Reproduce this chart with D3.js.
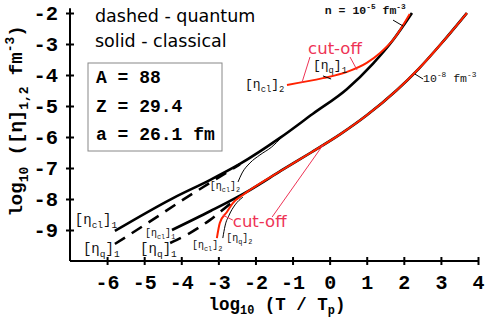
<!DOCTYPE html>
<html>
<head>
<meta charset="utf-8">
<script src="https://cdn.jsdelivr.net/npm/d3@7"></script>
<style>
  body { margin: 0; background: #fff; }
</style>
</head>
<body>
<svg id="chart" width="485" height="319"></svg>
<script>
// tick values
const xTicks = [-6, -5, -4, -3, -2, -1, 0, 1, 2, 3, 4];
const yTicks = [-2, -3, -4, -5, -6, -7, -8, -9];

// n = 1e-5 fm^-3
const clHiX = [-5.79, -4.22, -3.23, -2.42, -1.34, -0.45, 0.47, 1.17, 1.71, 2.22];
const clHiY = [-9.03, -7.97, -7.39, -6.87, -6.03, -5.25, -4.45, -3.63, -2.87, -2.0];
const qHiX = [-5.79, -4.9, -4.0, -3.2, -2.42];
const qHiY = [-9.45, -8.77, -8.06, -7.46, -6.88];
const cutHiX = [-1.15, -0.18, 0.47, 1.0, 1.36, 1.71, 2.16];
const cutHiY = [-4.32, -4.10, -3.90, -3.61, -3.29, -2.87, -2.03];
const cl2HiX = [-2.47, -2.36, -2.15, -1.88, -1.56, -1.30];
const cl2HiY = [-7.45, -7.16, -6.84, -6.58, -6.32, -6.02];

// n = 1e-8 fm^-3
const clLoX = [-4.25, -3.2, -2.15, -1.3, -0.5, 0.3, 1.0, 1.8, 2.4, 3.0, 3.7];
const clLoY = [-9.0, -8.38, -7.71, -7.08, -6.5, -5.9, -5.3, -4.5, -3.8, -3.0, -2.0];
const qLoX = [-4.30, -3.77, -3.23, -2.82, -2.42];
const qLoY = [-9.42, -9.10, -8.68, -8.29, -7.90];
const cutLoX = [-3.04, -2.96, -2.77, -2.61, -2.34, -2.15, -1.3, -0.5, 0.3, 1.0, 1.8, 2.4, 3.0, 3.7];
const cutLoY = [-9.26, -8.77, -8.42, -8.13, -7.87, -7.71, -7.08, -6.5, -5.9, -5.3, -4.5, -3.8, -3.0, -2.0];
const q2LoX = [-2.88, -2.82, -2.71, -2.55, -2.34];
const q2LoY = [-9.26, -8.87, -8.52, -8.19, -7.94];

const svg = d3.select("#chart");
const mono = "'Liberation Mono', 'Courier New', monospace";

const x = d3.scaleLinear().domain([-7, 4]).range([70, 478]);
const y = d3.scaleLinear().domain([-10, -2]).range([261, 13]);

const zip = (xs, ys) => xs.map((v, i) => [v, ys[i]]);
const line = d3.line().x(d => x(d[0])).y(d => y(d[1])).curve(d3.curveMonotoneX);

// write text with sub / superscripts
function rich(sel, parts, size, subShift = 0.3) {
  let shift = 0;
  parts.forEach(([t, k]) => {
    const target = k === "sub" ? size * subShift : k === "sup" ? -size * 0.42 : 0;
    sel.append("tspan")
      .attr("dy", target - shift)
      .attr("font-size", k ? size * 0.68 : size)
      .text(t);
    shift = target;
  });
  return sel;
}

// axes
const xAxis = svg.append("g")
  .attr("transform", `translate(0,${y(-10)})`)
  .call(d3.axisBottom(x).tickValues(xTicks).tickFormat(d => String(d))
    .tickSize(4).tickPadding(10).tickSizeOuter(0));
xAxis.selectAll(".tick line").attr("y1", -4).attr("y2", 4);

const yAxis = svg.append("g")
  .attr("transform", `translate(${x(-7)},0)`)
  .call(d3.axisLeft(y).tickValues(yTicks).tickFormat(d => String(d))
    .tickSize(4).tickPadding(8).tickSizeOuter(0));
yAxis.selectAll(".tick line").attr("x1", -4).attr("x2", 4);

svg.selectAll(".domain, .tick line").attr("stroke", "#000").attr("stroke-width", 2);
xAxis.select(".domain").attr("d", `M${x(-7)},0H${x(4)}`);
yAxis.select(".domain").attr("d", `M0,${y(-10)}V${y(-1.85)}`);
svg.selectAll(".tick text")
  .attr("font-family", mono).attr("font-weight", "bold")
  .attr("font-size", 20.5).attr("fill", "#000");
xAxis.selectAll(".tick text").attr("font-size", 20);

// axis titles
rich(svg.append("text")
  .attr("x", 277).attr("y", 310)
  .attr("text-anchor", "middle")
  .attr("font-family", mono).attr("font-weight", "bold"),
  [["log"], ["10", "sub"], [" (T / T"], ["p", "sub"], [")"]], 17.5, 0.22);

rich(svg.append("text")
  .attr("transform", "translate(22,121) rotate(-90)")
  .attr("text-anchor", "middle")
  .attr("font-family", mono).attr("font-weight", "bold"),
  [["log"], ["10", "sub"], [" ([\u03b7]"], ["1,2", "sub"], [" fm"], ["-3", "sup"], [")"]], 19);

// curves
const curves = svg.append("g").attr("fill", "none");
curves.append("path").datum(zip(clHiX, clHiY)).attr("d", line)
  .attr("stroke", "#000").attr("stroke-width", 2.6);
curves.append("path").datum(zip(qHiX, qHiY)).attr("d", line)
  .attr("stroke", "#000").attr("stroke-width", 2.6).attr("stroke-dasharray", "12,8");
curves.append("path").datum(zip(clLoX, clLoY)).attr("d", line)
  .attr("stroke", "#000").attr("stroke-width", 2.6);
curves.append("path").datum(zip(qLoX, qLoY)).attr("d", line)
  .attr("stroke", "#000").attr("stroke-width", 2.6).attr("stroke-dasharray", "12,8");
curves.append("path").datum(zip(cl2HiX, cl2HiY)).attr("d", line)
  .attr("stroke", "#000").attr("stroke-width", 1);
curves.append("path").datum(zip(q2LoX, q2LoY)).attr("d", line)
  .attr("stroke", "#000").attr("stroke-width", 1);
curves.append("path").datum(zip(cutHiX, cutHiY)).attr("d", line)
  .attr("stroke", "#ff2200").attr("stroke-width", 2);
curves.append("path").datum(zip(cutLoX, cutLoY)).attr("d", line)
  .attr("stroke", "#ff2200").attr("stroke-width", 2);

// leader lines (data units)
const leaders = [
  [[-0.53, -3.42], [-0.75, -4.26], "#ee3355"],
  [[0.55, -3.42], [0.74, -3.84], "#ee3355"],
  [[-2.61, -8.68], [-2.88, -8.52], "#ee3355"],
  [[-1.55, -8.58], [-0.18, -6.26], "#ee3355"],
  [[-0.18, -4.03], [0.04, -4.13], "#000"],
  [[1.71, -2.23], [1.98, -2.42], "#000"],
  [[2.30, -3.97], [2.52, -4.13], "#000"]
];
svg.append("g").selectAll("line").data(leaders).join("line")
  .attr("x1", d => x(d[0][0])).attr("y1", d => y(d[0][1]))
  .attr("x2", d => x(d[1][0])).attr("y2", d => y(d[1][1]))
  .attr("stroke", d => d[2]).attr("stroke-width", 1);

// curve labels
const labels = [
  { x: -6.87, y: -8.81, s: 14, parts: [["[\u03b7"], ["cl", "sub"], ["]"], ["1", "sub"]] },
  { x: -6.65, y: -9.74, s: 14, parts: [["[\u03b7"], ["q", "sub"], ["]"], ["1", "sub"]] },
  { x: -4.98, y: -9.19, s: 10, parts: [["[\u03b7"], ["cl", "sub"], ["]"], ["1", "sub"]] },
  { x: -5.11, y: -9.74, s: 14, parts: [["[\u03b7"], ["q", "sub"], ["]"], ["1", "sub"]] },
  { x: -3.71, y: -9.58, s: 10, parts: [["[\u03b7"], ["cl", "sub"], ["]"], ["2", "sub"]] },
  { x: -2.79, y: -9.35, s: 10, parts: [["[\u03b7"], ["q", "sub"], ["]"], ["2", "sub"]] },
  { x: -3.23, y: -7.68, s: 10, parts: [["[\u03b7"], ["cl", "sub"], ["]"], ["2", "sub"]] },
  { x: -2.28, y: -4.42, s: 13, parts: [["[\u03b7"], ["cl", "sub"], ["]"], ["2", "sub"]] },
  { x: -0.45, y: -3.81, s: 13, parts: [["[\u03b7"], ["q", "sub"], ["]"], ["1", "sub"]] },
  { x: -0.13, y: -2.03, s: 11.5, b: true, parts: [["n = 10"], ["-5", "sup"], [" fm"], ["-3", "sup"]] },
  { x: 2.52, y: -4.23, s: 11.5, parts: [["10"], ["-8", "sup"], [" fm"], ["-3", "sup"]] }
];
labels.forEach(l => {
  rich(svg.append("text").attr("x", x(l.x)).attr("y", y(l.y))
    .attr("font-family", mono).attr("font-weight", l.b ? "bold" : "normal")
    .attr("fill", "#111"), l.parts, l.s);
});

const cutoffs = [{ x: -0.58, y: -3.32 }, { x: -2.61, y: -8.90 }];
svg.append("g").selectAll("text").data(cutoffs).join("text")
  .attr("x", d => x(d.x)).attr("y", d => y(d.y))
  .attr("font-family", "'DejaVu Sans', sans-serif").attr("font-size", 16.5)
  .attr("fill", "#ee3355").text("cut-off");

// legend and parameter box
const sans = "'DejaVu Sans', 'Noto Sans', sans-serif";
svg.append("text").attr("x", 95).attr("y", 22)
  .attr("font-family", sans).attr("font-size", 17.5).text("dashed - quantum");
svg.append("text").attr("x", 95).attr("y", 47)
  .attr("font-family", sans).attr("font-size", 17.5).text("solid - classical");

svg.append("rect").attr("x", 88).attr("y", 63).attr("width", 134).attr("height", 88)
  .attr("fill", "#fff").attr("stroke", "#888").attr("stroke-width", 1);
const params = ["A = 88", "Z = 29.4", "a = 26.1 fm"];
svg.append("g").selectAll("text").data(params).join("text")
  .attr("x", 96).attr("y", (d, i) => 83 + i * 28.5)
  .attr("font-family", mono).attr("font-weight", "bold").attr("font-size", 18)
  .text(d => d);
</script>
</body>
</html>
